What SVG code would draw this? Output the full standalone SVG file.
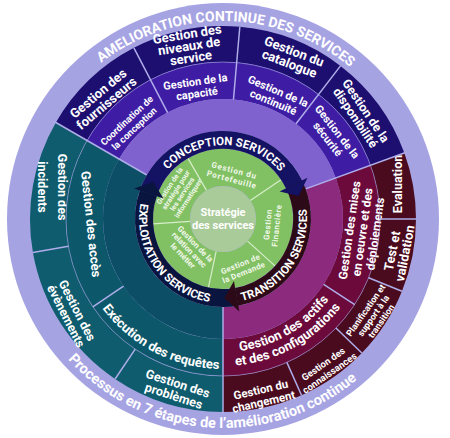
<svg xmlns="http://www.w3.org/2000/svg" width="450" height="438" viewBox="0 0 450 438">
<style>
.t{font-family:Roboto,"Open Sans","Liberation Sans",sans-serif;font-weight:700;fill:#fff;text-anchor:middle}
.s{fill:none}
.dv{stroke:#aeace9;stroke-width:1.5}
.gd{stroke:#d6edc9;stroke-width:1.2}
.gt{fill:#f1f8ea}
</style>
<defs>
<path id="cw198" d="M 240.27 21.75 A 198 198 0 0 1 240.27 416.25"/>
<path id="ccw209" d="M 241.22 427.21 A 209 209 0 0 0 241.22 10.79"/>
<path id="cw74" d="M 229.45 145.28 A 74 74 0 0 1 229.45 292.72"/>
<path id="ccw84" d="M 230.32 302.68 A 84 84 0 0 0 230.32 135.32"/>
<path id="ccw133" d="M 234.60 351.49 A 133 133 0 0 0 234.60 86.51"/>
<path id="ccw147" d="M 235.82 365.44 A 147 147 0 0 0 235.82 72.56"/>
<path id="ccw150" d="M 236.08 368.43 A 150 150 0 0 0 236.08 69.57"/>
<polygon id="head" points="315.84,204.30 302,219 285.22,209.14"/>
</defs>
<rect width="450" height="438" fill="#fff"/>

<g id="amelioration-continue">
<circle cx="223" cy="219" r="216" fill="#a6a3e3"/>
<text class="t" font-size="14" transform="rotate(271 223 219)"><textPath href="#cw198" startOffset="50%">AMELIORATION CONTINUE DES SERVICES</textPath></text>
<text class="t" font-size="14.5" transform="rotate(94 223 219)"><textPath href="#ccw209" startOffset="50%">Processus en 7 étapes de l’amélioration continue</textPath></text>
</g>

<!-- Conception quadrant -->
<g id="fournisseurs">
<circle class="s" cx="223" cy="219" r="175" stroke="#1d0f6f" stroke-width="36" stroke-dasharray="99.27 1100" transform="rotate(210 223 219)"/>
<g transform="translate(102 98) rotate(-40)" font-size="13"><text class="t" y="-1.5">Gestion des</text><text class="t" y="11.5">fournisseurs</text></g>
</g>
<g id="niveaux-service">
<circle class="s" cx="223" cy="219" r="175" stroke="#1d0f6f" stroke-width="36" stroke-dasharray="99.27 1100" transform="rotate(242.5 223 219)"/>
<g transform="translate(189 46) rotate(-9)" font-size="13"><text class="t" y="-7.5">Gestion des</text><text class="t" y="4.5">niveaux de</text><text class="t" y="16.5">service</text></g>
</g>
<g id="catalogue">
<circle class="s" cx="223" cy="219" r="175" stroke="#1d0f6f" stroke-width="36" stroke-dasharray="99.27 1100" transform="rotate(275 223 219)"/>
<g transform="translate(292 57) rotate(21)" font-size="13"><text class="t" y="-1.5">Gestion du</text><text class="t" y="11.5">catalogue</text></g>
</g>
<g id="disponibilite">
<circle class="s" cx="223" cy="219" r="175" stroke="#1d0f6f" stroke-width="36" stroke-dasharray="99.27 1100" transform="rotate(307.5 223 219)"/>
<g transform="translate(361 114) rotate(56)" font-size="12.5"><text class="t" y="-1.5">Gestion de la</text><text class="t" y="11">disponibilité</text></g>
</g>
<g id="coordination">
<circle class="s" cx="223" cy="219" r="138.5" stroke="#3e1ca3" stroke-width="37" stroke-dasharray="78.56 871" transform="rotate(210 223 219)"/>
<g transform="translate(130 124) rotate(-43)" font-size="9.5"><text class="t" y="-1.5">Coordination de</text><text class="t" y="9.5">la conception</text></g>
</g>
<g id="capacite">
<circle class="s" cx="223" cy="219" r="138.5" stroke="#3e1ca3" stroke-width="37" stroke-dasharray="78.56 871" transform="rotate(242.5 223 219)"/>
<g transform="translate(196 87) rotate(-8)" font-size="11"><text class="t" y="-1.5">Gestion de la</text><text class="t" y="10.5">capacité</text></g>
</g>
<g id="continuite">
<circle class="s" cx="223" cy="219" r="138.5" stroke="#3e1ca3" stroke-width="37" stroke-dasharray="78.56 871" transform="rotate(275 223 219)"/>
<g transform="translate(276 96) rotate(23)" font-size="11"><text class="t" y="-1.5">Gestion de la</text><text class="t" y="10.5">continuité</text></g>
</g>
<g id="securite">
<circle class="s" cx="223" cy="219" r="138.5" stroke="#3e1ca3" stroke-width="37" stroke-dasharray="78.56 871" transform="rotate(307.5 223 219)"/>
<g transform="translate(333 135) rotate(52)" font-size="11"><text class="t" y="-1.5">Gestion de la</text><text class="t" y="10.5">sécurité</text></g>
</g>
<g id="conception-zone">
<circle class="s" cx="223" cy="219" r="104" stroke="#7f62cd" stroke-width="32" stroke-dasharray="235.97 654" transform="rotate(210 223 219)"/>
</g>

<!-- Transition quadrant -->
<g id="evaluation">
<circle class="s" cx="223" cy="219" r="175" stroke="#4a0b1e" stroke-width="36" stroke-dasharray="61.09 1100" transform="rotate(340 223 219)"/>
<g transform="translate(397 184) rotate(-90)" font-size="12.5"><text class="t" y="4.5">Evaluation</text></g>
</g>
<g id="test-validation">
<circle class="s" cx="223" cy="219" r="175" stroke="#4a0b1e" stroke-width="36" stroke-dasharray="67.2 1100" transform="rotate(0 223 219)"/>
<g transform="translate(398 252) rotate(-79)" font-size="13"><text class="t" y="-1.5">Test et</text><text class="t" y="11.5">validation</text></g>
</g>
<g id="planification">
<circle class="s" cx="223" cy="219" r="175" stroke="#4a0b1e" stroke-width="36" stroke-dasharray="67.2 1100" transform="rotate(22 223 219)"/>
<g transform="translate(374 316) rotate(-55)" font-size="9"><text class="t" y="-7">Planification et</text><text class="t" y="2.5">support à la</text><text class="t" y="12">transition</text></g>
</g>
<g id="connaissances">
<circle class="s" cx="223" cy="219" r="175" stroke="#4a0b1e" stroke-width="36" stroke-dasharray="67.2 1100" transform="rotate(44 223 219)"/>
<g transform="translate(326 368) rotate(-35)" font-size="9.5"><text class="t" y="-1.5">Gestion des</text><text class="t" y="9.5">connaissances</text></g>
</g>
<g id="changement">
<circle class="s" cx="223" cy="219" r="175" stroke="#4a0b1e" stroke-width="36" stroke-dasharray="73.3 1100" transform="rotate(66 223 219)"/>
<g transform="translate(262 395) rotate(-13)" font-size="11.5"><text class="t" y="-1.5">Gestion du</text><text class="t" y="11">changement</text></g>
</g>
<g id="mises-en-oeuvre">
<circle class="s" cx="223" cy="219" r="138.5" stroke="#6b0a3b" stroke-width="37" stroke-dasharray="128.12 871" transform="rotate(340 223 219)"/>
<g transform="translate(362 232) rotate(-82)" font-size="12"><text class="t" y="-8.5">Gestion des mises</text><text class="t" y="4.5">en oeuvre et des</text><text class="t" y="17.5">déploiements</text></g>
</g>
<g id="actifs-configurations">
<circle class="s" cx="223" cy="219" r="138.5" stroke="#6b0a3b" stroke-width="37" stroke-dasharray="137.79 871" transform="rotate(33 223 219)"/>
<text class="t" font-size="13" transform="rotate(60 223 219)"><textPath href="#ccw133" startOffset="50%">Gestion des actifs</textPath></text>
<text class="t" font-size="13" transform="rotate(61 223 219)"><textPath href="#ccw147" startOffset="50%">et des configurations</textPath></text>
</g>
<g id="transition-zone">
<circle class="s" cx="223" cy="219" r="104" stroke="#8c2b7e" stroke-width="32" stroke-dasharray="199.67 654" transform="rotate(340 223 219)"/>
</g>

<!-- Exploitation quadrant -->
<g id="problemes">
<circle class="s" cx="223" cy="219" r="175" stroke="#0e5c6d" stroke-width="36" stroke-dasharray="103.85 1100" transform="rotate(90 223 219)"/>
<g transform="translate(176 389) rotate(18)" font-size="12.5"><text class="t" y="-1.5">Gestion des</text><text class="t" y="11.5">problèmes</text></g>
</g>
<g id="evenements">
<circle class="s" cx="223" cy="219" r="175" stroke="#0e5c6d" stroke-width="36" stroke-dasharray="140.5 1100" transform="rotate(124 223 219)"/>
<g transform="translate(72 313) rotate(63)" font-size="12.5"><text class="t" y="-1.5">Gestion des</text><text class="t" y="11">évènements</text></g>
</g>
<g id="incidents">
<circle class="s" cx="223" cy="219" r="175" stroke="#0e5c6d" stroke-width="36" stroke-dasharray="122.17 1100" transform="rotate(170 223 219)"/>
<g transform="translate(52 187) rotate(90)" font-size="12.5"><text class="t" y="-5.5">Gestion des</text><text class="t" y="14.5">incidents</text></g>
</g>
<g id="execution-requetes">
<circle class="s" cx="223" cy="219" r="138.5" stroke="#0c586a" stroke-width="37" stroke-dasharray="135.37 871" transform="rotate(90 223 219)"/>
<text class="t" font-size="13" transform="rotate(117.5 223 219)"><textPath href="#ccw150" startOffset="50%">Exécution des requêtes</textPath></text>
</g>
<g id="acces">
<circle class="s" cx="223" cy="219" r="138.5" stroke="#0c586a" stroke-width="37" stroke-dasharray="154.71 871" transform="rotate(146 223 219)"/>
<g transform="translate(91 224) rotate(84)" font-size="13"><text class="t" y="4.5">Gestion des accès</text></g>
</g>
<g id="exploitation-zone">
<circle class="s" cx="223" cy="219" r="104" stroke="#0b4e65" stroke-width="32" stroke-dasharray="217.82 654" transform="rotate(90 223 219)"/>
</g>

<g id="dividers">
<circle class="s" cx="223" cy="219" r="157" stroke="#a9a7e6" stroke-width="1" opacity="0.6"/>
<line class="dv" x1="343" y1="219" x2="416" y2="219" transform="rotate(242.5 223 219)"/>
<line class="dv" x1="343" y1="219" x2="416" y2="219" transform="rotate(275 223 219)"/>
<line class="dv" x1="343" y1="219" x2="416" y2="219" transform="rotate(307.5 223 219)"/>
<line class="dv" x1="380" y1="219" x2="416" y2="219" transform="rotate(0 223 219)"/>
<line class="dv" x1="380" y1="219" x2="416" y2="219" transform="rotate(22 223 219)"/>
<line class="dv" x1="380" y1="219" x2="416" y2="219" transform="rotate(44 223 219)"/>
<line class="dv" x1="380" y1="219" x2="416" y2="219" transform="rotate(66 223 219)"/>
<line class="dv" x1="343" y1="219" x2="380" y2="219" transform="rotate(33 223 219)"/>
<line class="dv" x1="380" y1="219" x2="416" y2="219" transform="rotate(124 223 219)"/>
<line class="dv" x1="380" y1="219" x2="416" y2="219" transform="rotate(170 223 219)"/>
<line class="dv" x1="343" y1="219" x2="380" y2="219" transform="rotate(146 223 219)"/>
<line class="dv" x1="311" y1="219" x2="418" y2="219" stroke-width="2.5" transform="rotate(210 223 219)"/>
<line class="dv" x1="311" y1="219" x2="418" y2="219" stroke-width="2.5" transform="rotate(340 223 219)"/>
<line class="dv" x1="311" y1="219" x2="418" y2="219" transform="rotate(90 223 219)"/>
</g>

<!-- Strategy ring -->
<g id="strategie-si">
<circle class="s" cx="223" cy="219" r="51.5" stroke="#82c064" stroke-width="37" stroke-dasharray="57.53 324" transform="rotate(176 223 219)"/>
<g transform="translate(179 192) rotate(-57)" font-size="7.2"><text class="t gt" y="-8.75">Gestion de la</text><text class="t gt" y="-1.25">stratégie pour</text><text class="t gt" y="6.25">les services</text><text class="t gt" y="13.75">informatiques</text></g>
</g>
<g id="portefeuille">
<circle class="s" cx="223" cy="219" r="51.5" stroke="#82c064" stroke-width="37" stroke-dasharray="77.3 324" transform="rotate(240 223 219)"/>
<g transform="translate(233 175) rotate(15)" font-size="8" letter-spacing="0.8"><text class="t gt" y="-2">Gestion du</text><text class="t gt" y="7.5">Portefeuille</text></g>
</g>
<g id="financiere">
<circle class="s" cx="223" cy="219" r="51.5" stroke="#82c064" stroke-width="37" stroke-dasharray="68.31 324" transform="rotate(326 223 219)"/>
<g transform="translate(272 225) rotate(-84)" font-size="8" letter-spacing="0.5"><text class="t gt" y="-1.5">Gestion</text><text class="t gt" y="7.5">Financière</text></g>
</g>
<g id="demande">
<circle class="s" cx="223" cy="219" r="51.5" stroke="#82c064" stroke-width="37" stroke-dasharray="53.93 324" transform="rotate(42 223 219)"/>
<g transform="translate(242 268) rotate(-22)" font-size="8" letter-spacing="0.3"><text class="t gt" y="-1.5">Gestion de</text><text class="t gt" y="7.5">la Demande</text></g>
</g>
<g id="relation-metier">
<circle class="s" cx="223" cy="219" r="51.5" stroke="#82c064" stroke-width="37" stroke-dasharray="66.51 324" transform="rotate(102 223 219)"/>
<g transform="translate(189 250) rotate(46)" font-size="8"><text class="t gt" y="-6">Gestion de la</text><text class="t gt" y="2.5">relation avec</text><text class="t gt" y="11">le métier</text></g>
</g>
<g id="green-dividers">
<line class="gd" x1="256" y1="219" x2="293" y2="219" transform="rotate(176 223 219)"/>
<line class="gd" x1="256" y1="219" x2="293" y2="219" transform="rotate(240 223 219)"/>
<line class="gd" x1="256" y1="219" x2="293" y2="219" transform="rotate(326 223 219)"/>
<line class="gd" x1="256" y1="219" x2="293" y2="219" transform="rotate(42 223 219)"/>
<line class="gd" x1="256" y1="219" x2="293" y2="219" transform="rotate(102 223 219)"/>
</g>
<g id="strategie-services">
<circle cx="223" cy="219" r="33" fill="#a9cb99"/>
<text class="t" x="223" y="216" font-size="11" fill="#f4f7f0">Stratégie</text>
<text class="t" x="223" y="229" font-size="11" fill="#f4f7f0">des services</text>
</g>

<!-- Lifecycle arrows -->
<g id="connectors">
<circle class="s" cx="223" cy="219" r="79" stroke="#141262" stroke-width="18" stroke-dasharray="186.14 497" transform="rotate(199 223 219)"/>
<circle class="s" cx="223" cy="219" r="79" stroke="#2d0a17" stroke-width="18" stroke-dasharray="146.15 497" transform="rotate(334 223 219)"/>
<circle class="s" cx="223" cy="219" r="79" stroke="#0a153f" stroke-width="18" stroke-dasharray="164.08 497" transform="rotate(80 223 219)"/>
<use href="#head" fill="#141262" transform="rotate(343 223 219)"/>
<use href="#head" fill="#2d0a17" transform="rotate(89 223 219)"/>
<use href="#head" fill="#0a153f" transform="rotate(208 223 219)"/>
<text class="t" font-size="11.5" transform="rotate(271 223 219)"><textPath href="#cw74" startOffset="50%">CONCEPTION SERVICES</textPath></text>
<text class="t" font-size="11.5" transform="rotate(35 223 219)"><textPath href="#ccw84" startOffset="50%">TRANSITION SERVICES</textPath></text>
<text class="t" font-size="11.5" transform="rotate(145 223 219)"><textPath href="#ccw84" startOffset="50%">EXPLOITATION SERVICES</textPath></text>
</g>
</svg>
